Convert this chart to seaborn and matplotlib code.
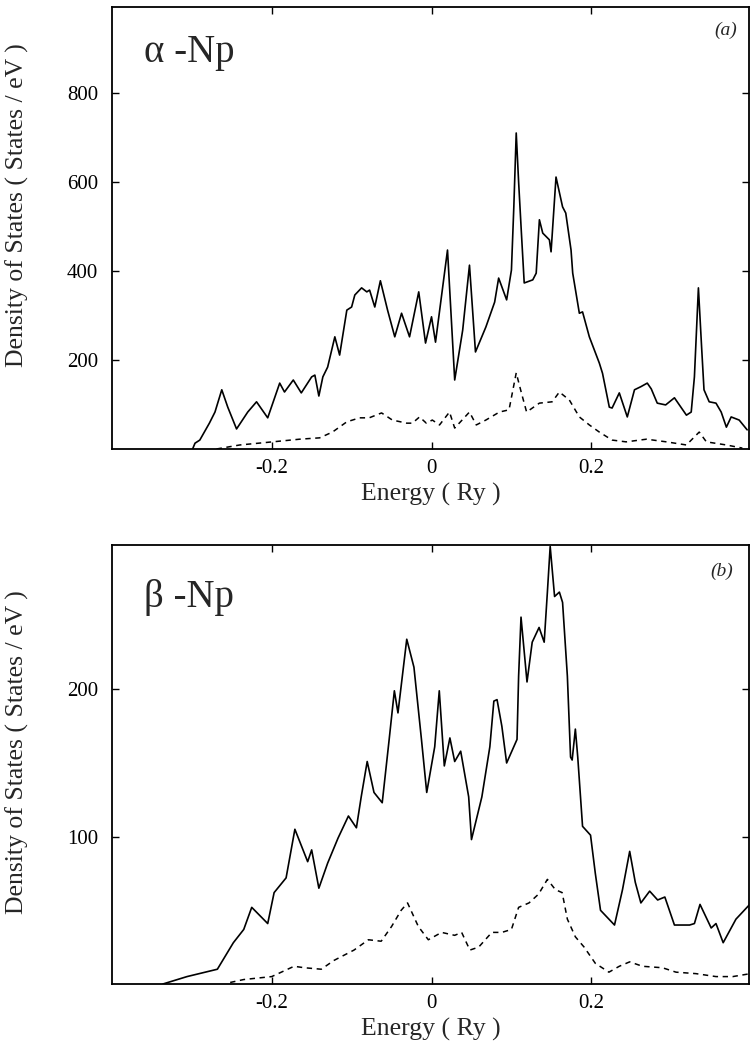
import matplotlib
matplotlib.use("Agg")
import matplotlib.pyplot as plt
import seaborn as sns

# alpha-Np, total DOS (solid) and partial (dashed)
alpha_e_tot = [-0.299, -0.296, -0.29, -0.278, -0.271, -0.2625, -0.255, -0.244, -0.23, -0.219,
               -0.205, -0.19, -0.184, -0.173, -0.163, -0.15, -0.146, -0.141, -0.136, -0.13,
               -0.121, -0.115, -0.106, -0.1, -0.096, -0.0875, -0.081, -0.0775, -0.071, -0.064,
               -0.055, -0.046, -0.0375, -0.0275, -0.016, -0.0075, 0.0, 0.005, 0.02, 0.029,
               0.039, 0.0475, 0.055, 0.068, 0.079, 0.084, 0.094, 0.1, 0.103, 0.106,
               0.109, 0.1125, 0.116, 0.1267, 0.131, 0.135, 0.1392, 0.1475, 0.1496, 0.1558,
               0.164, 0.168, 0.1746, 0.1767, 0.185, 0.189, 0.1975, 0.21, 0.214, 0.2225,
               0.226, 0.235, 0.245, 0.254, 0.262, 0.27, 0.275, 0.2825, 0.293, 0.304,
               0.319, 0.325, 0.329, 0.334, 0.338, 0.341, 0.3475, 0.356, 0.3625, 0.369,
               0.375, 0.385, 0.395]
alpha_dos_tot = [0, 13, 20, 58, 83, 133, 94, 45, 83, 106,
                 70, 148, 128, 155, 126, 162, 166, 119, 162, 184,
                 252, 211, 312, 319, 346, 362, 353, 357, 319, 378,
                 312, 252, 305, 252, 353, 238, 297, 240, 447, 155,
                 267, 413, 218, 274, 330, 384, 335, 402, 544, 710,
                 600, 485, 373, 380, 395, 515, 485, 470, 443, 611,
                 544, 530, 447, 395, 305, 308, 252, 193, 170, 94,
                 92, 126, 72, 133, 140, 148, 135, 103, 99, 115,
                 76, 83, 162, 362, 229, 133, 106, 103, 83, 49,
                 72, 65, 43]
alpha_e_f = [-0.269, -0.24, -0.199, -0.165, -0.14, -0.124, -0.106, -0.09, -0.078, -0.0625,
             -0.049, -0.031, -0.024, -0.015, -0.0065, 0.001, 0.01, 0.0225, 0.029, 0.0475,
             0.056, 0.068, 0.085, 0.097, 0.106, 0.1125, 0.119, 0.135, 0.151, 0.16,
             0.1725, 0.185, 0.1975, 0.21, 0.226, 0.2435, 0.269, 0.294, 0.319, 0.335,
             0.344, 0.369, 0.389]
alpha_dos_f = [0, 9, 16, 22, 25, 38, 61, 70, 70, 81,
               65, 58, 58, 72, 58, 65, 54, 83, 47, 83,
               54, 65, 83, 88, 171, 126, 83, 103, 106, 128,
               110, 72, 54, 38, 20, 16, 22, 16, 9, 38,
               16, 9, 2]

# beta-Np
beta_e_tot = [-0.336, -0.306, -0.268, -0.248, -0.235, -0.225, -0.205, -0.197, -0.182, -0.171,
              -0.155, -0.15, -0.141, -0.13, -0.117, -0.104, -0.094, -0.088, -0.0805, -0.072,
              -0.0617, -0.053, -0.0465, -0.042, -0.031, -0.022, -0.0126, -0.006, 0.004, 0.0097,
              0.016, 0.023, 0.029, 0.0365, 0.0465, 0.05, 0.063, 0.073, 0.078, 0.082,
              0.088, 0.094, 0.107, 0.109, 0.112, 0.1195, 0.126, 0.1346, 0.141, 0.145,
              0.1485, 0.154, 0.16, 0.164, 0.17, 0.174, 0.176, 0.18, 0.183, 0.189,
              0.199, 0.205, 0.2115, 0.229, 0.239, 0.248, 0.255, 0.262, 0.273, 0.283,
              0.292, 0.304, 0.323, 0.329, 0.336, 0.35, 0.356, 0.365, 0.381, 0.4]
beta_dos_tot = [0, 5, 10, 28, 37, 52, 41, 62, 72, 105,
                83, 91, 65, 82, 99, 114, 106, 127, 151, 130,
                123, 166, 199, 184, 234, 215, 166, 130, 161, 199,
                148, 167, 151, 158, 127, 98, 127, 161, 192, 193,
                175, 150, 166, 209, 249, 205, 232, 242, 232, 266,
                297, 263, 266, 259, 209, 154, 152, 173, 154, 107,
                101, 75, 50, 40, 64, 90, 69, 55, 63, 57,
                59, 40, 40, 41, 54, 38, 41, 28, 44, 55]
beta_e_f = [-0.252, -0.235, -0.2, -0.172, -0.159, -0.138, -0.122, -0.097, -0.079, -0.063,
            -0.05, -0.038, -0.03, -0.0165, -0.004, 0.0126, 0.029, 0.0377, 0.048, 0.059,
            0.0755, 0.088, 0.1, 0.109, 0.122, 0.134, 0.145, 0.155, 0.1635, 0.17,
            0.18, 0.191, 0.205, 0.222, 0.235, 0.248, 0.264, 0.289, 0.306, 0.331,
            0.356, 0.377, 0.399]
beta_dos_f = [1, 3, 5, 12, 11, 10, 16, 23, 30, 29,
              39, 50, 55, 39, 30, 35, 33, 35, 23, 25,
              35, 35, 37, 52, 55, 61, 71, 64, 62, 44,
              32, 25, 14, 8, 12, 15, 12, 11, 8, 7,
              5, 5, 7]

x_ticks = [-0.2, 0.0, 0.2]
x_tick_labels = ["-0.2", "0", "0.2"]
alpha_yticks = [200, 400, 600, 800]
beta_yticks = [100, 200]

sns.set_style("ticks")
plt.rcParams['font.family'] = ['Liberation Serif', 'DejaVu Serif']

fig = plt.figure(figsize=(7.51, 10.5), dpi=100)
ax1 = fig.add_axes([0.149, 0.5724, 0.848, 0.4209])
ax2 = fig.add_axes([0.149, 0.0629, 0.848, 0.4181])

panels = [
    (ax1, alpha_e_tot, alpha_dos_tot, alpha_e_f, alpha_dos_f, alpha_yticks, (0, 993),
     "\u03b1 -Np", (0.05, 0.898), "(a)", (0.981, 0.948), 0.552),
    (ax2, beta_e_tot, beta_dos_tot, beta_e_f, beta_dos_f, beta_yticks, (0, 298),
     "\u03b2 -Np", (0.05, 0.88), "(b)", (0.975, 0.941), 0.528),
]

for ax, et, dt, ef, df, yt, ylim, name, npos, tag, tpos, ylab_y in panels:
    sns.lineplot(x=et, y=dt, ax=ax, color="black", lw=1.2, estimator=None)
    sns.lineplot(x=ef, y=df, ax=ax, color="black", lw=1.1, estimator=None,
                 linestyle=(0, (3.5, 3)))
    ax.set_xlim(-0.4, 0.397)
    ax.set_ylim(*ylim)
    ax.set_xticks(x_ticks)
    ax.set_xticklabels(x_tick_labels)
    ax.set_yticks(yt)
    ax.tick_params(direction="in", length=5, width=1, top=True, right=True,
                   labelsize=15, colors="black")
    ax.tick_params(axis="y", pad=10)
    ax.tick_params(axis="x", pad=7)
    for s in ax.spines.values():
        s.set_linewidth(1.3)
        s.set_color("black")
    ax.set_xlabel("Energy ( Ry )", fontsize=18.5, labelpad=4)
    ax.set_ylabel("Density of States ( States / eV )", fontsize=18.5)
    ax.yaxis.set_label_coords(-0.13, ylab_y)
    ax.text(npos[0], npos[1], name, transform=ax.transAxes, fontsize=28,
            ha="left", va="center")
    ax.text(tpos[0], tpos[1], tag, transform=ax.transAxes, fontsize=14,
            style="italic", ha="right", va="center")

fig.savefig("out.png", dpi=100)
